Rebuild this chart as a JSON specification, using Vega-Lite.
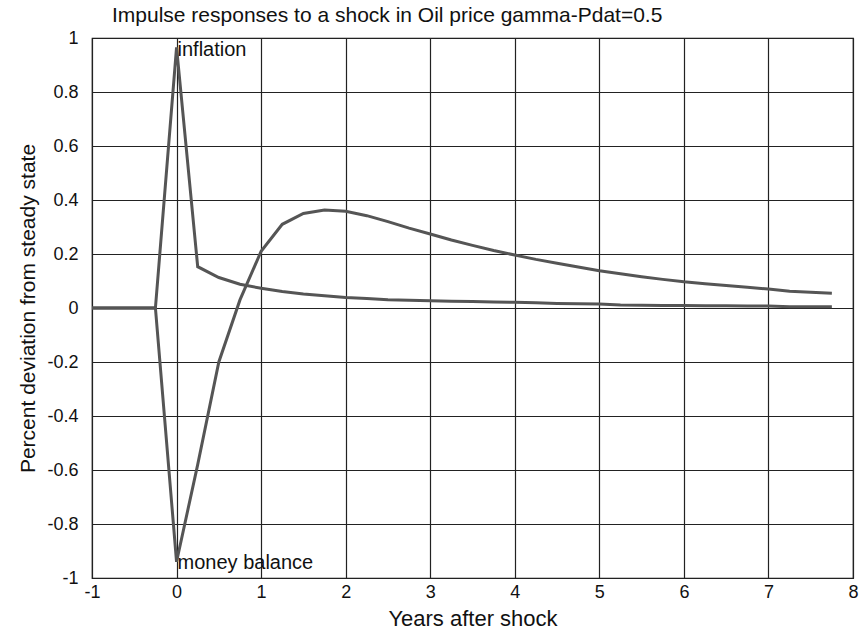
{
  "$schema": "https://vega.github.io/schema/vega-lite/v6.json",
  "width": 761,
  "height": 540,
  "autosize": "none",
  "padding": {"left": 92, "top": 38, "right": 10, "bottom": 58},
  "background": "white",
  "config": {
    "font": "Liberation Sans",
    "view": {"stroke": "#111", "strokeWidth": 1.2},
    "axis": {
      "grid": true, "gridColor": "#222", "gridOpacity": 1, "gridWidth": 1.2,
      "domain": false, "ticks": false,
      "labelFont": "Liberation Sans", "labelFontSize": 18, "labelColor": "#111",
      "titleFont": "Liberation Sans", "titleFontWeight": "normal", "titleColor": "#111",
      "labelFlush": false, "labelOverlap": false
    }
  },
  "title": {
    "text": "Impulse responses to a shock in Oil price gamma-Pdat=0.5",
    "anchor": "start", "frame": "group", "dx": 20, "offset": 3,
    "font": "Liberation Sans", "fontSize": 21, "fontWeight": "normal", "color": "#111"
  },
  "datasets": {
    "series": [
      {"t": -1, "v": 0, "s": "inflation"},
      {"t": -0.75, "v": 0, "s": "inflation"},
      {"t": -0.5, "v": 0, "s": "inflation"},
      {"t": -0.25, "v": 0, "s": "inflation"},
      {"t": 0, "v": 0.965, "s": "inflation"},
      {"t": 0.25, "v": 0.153, "s": "inflation"},
      {"t": 0.5, "v": 0.113, "s": "inflation"},
      {"t": 0.75, "v": 0.088, "s": "inflation"},
      {"t": 1, "v": 0.073, "s": "inflation"},
      {"t": 1.25, "v": 0.061, "s": "inflation"},
      {"t": 1.5, "v": 0.052, "s": "inflation"},
      {"t": 1.75, "v": 0.045, "s": "inflation"},
      {"t": 2, "v": 0.039, "s": "inflation"},
      {"t": 2.25, "v": 0.035, "s": "inflation"},
      {"t": 2.5, "v": 0.031, "s": "inflation"},
      {"t": 2.75, "v": 0.029, "s": "inflation"},
      {"t": 3, "v": 0.027, "s": "inflation"},
      {"t": 3.25, "v": 0.025, "s": "inflation"},
      {"t": 3.5, "v": 0.024, "s": "inflation"},
      {"t": 3.75, "v": 0.022, "s": "inflation"},
      {"t": 4, "v": 0.021, "s": "inflation"},
      {"t": 4.25, "v": 0.019, "s": "inflation"},
      {"t": 4.5, "v": 0.017, "s": "inflation"},
      {"t": 4.75, "v": 0.016, "s": "inflation"},
      {"t": 5, "v": 0.015, "s": "inflation"},
      {"t": 5.25, "v": 0.011, "s": "inflation"},
      {"t": 5.5, "v": 0.01, "s": "inflation"},
      {"t": 5.75, "v": 0.009, "s": "inflation"},
      {"t": 6, "v": 0.009, "s": "inflation"},
      {"t": 6.25, "v": 0.008, "s": "inflation"},
      {"t": 6.5, "v": 0.008, "s": "inflation"},
      {"t": 6.75, "v": 0.007, "s": "inflation"},
      {"t": 7, "v": 0.007, "s": "inflation"},
      {"t": 7.25, "v": 0.005, "s": "inflation"},
      {"t": 7.5, "v": 0.005, "s": "inflation"},
      {"t": 7.75, "v": 0.005, "s": "inflation"},
      {"t": -1, "v": 0, "s": "money balance"},
      {"t": -0.75, "v": 0, "s": "money balance"},
      {"t": -0.5, "v": 0, "s": "money balance"},
      {"t": -0.25, "v": 0, "s": "money balance"},
      {"t": 0, "v": -0.94, "s": "money balance"},
      {"t": 0.25, "v": -0.58, "s": "money balance"},
      {"t": 0.5, "v": -0.2, "s": "money balance"},
      {"t": 0.75, "v": 0.03, "s": "money balance"},
      {"t": 1, "v": 0.21, "s": "money balance"},
      {"t": 1.25, "v": 0.31, "s": "money balance"},
      {"t": 1.5, "v": 0.35, "s": "money balance"},
      {"t": 1.75, "v": 0.363, "s": "money balance"},
      {"t": 2, "v": 0.358, "s": "money balance"},
      {"t": 2.25, "v": 0.342, "s": "money balance"},
      {"t": 2.5, "v": 0.32, "s": "money balance"},
      {"t": 2.75, "v": 0.296, "s": "money balance"},
      {"t": 3, "v": 0.274, "s": "money balance"},
      {"t": 3.25, "v": 0.252, "s": "money balance"},
      {"t": 3.5, "v": 0.232, "s": "money balance"},
      {"t": 3.75, "v": 0.213, "s": "money balance"},
      {"t": 4, "v": 0.196, "s": "money balance"},
      {"t": 4.25, "v": 0.18, "s": "money balance"},
      {"t": 4.5, "v": 0.166, "s": "money balance"},
      {"t": 4.75, "v": 0.152, "s": "money balance"},
      {"t": 5, "v": 0.138, "s": "money balance"},
      {"t": 5.25, "v": 0.127, "s": "money balance"},
      {"t": 5.5, "v": 0.116, "s": "money balance"},
      {"t": 5.75, "v": 0.106, "s": "money balance"},
      {"t": 6, "v": 0.097, "s": "money balance"},
      {"t": 6.25, "v": 0.09, "s": "money balance"},
      {"t": 6.5, "v": 0.083, "s": "money balance"},
      {"t": 6.75, "v": 0.077, "s": "money balance"},
      {"t": 7, "v": 0.07, "s": "money balance"},
      {"t": 7.25, "v": 0.062, "s": "money balance"},
      {"t": 7.5, "v": 0.058, "s": "money balance"},
      {"t": 7.75, "v": 0.055, "s": "money balance"}
    ],
    "labels": [
      {"t": 0, "v": 0.955, "label": "inflation"},
      {"t": 0, "v": -0.945, "label": "money balance"}
    ]
  },
  "layer": [
    {
      "data": {"name": "series"},
      "mark": {"type": "line", "color": "#555", "strokeWidth": 3, "clip": true},
      "encoding": {
        "x": {
          "field": "t", "type": "quantitative",
          "scale": {"domain": [-1, 8], "nice": false, "zero": false},
          "axis": {
            "values": [-1, 0, 1, 2, 3, 4, 5, 6, 7, 8],
            "labelExpr": "'' + datum.value",
            "labelPadding": 5,
            "title": "Years after shock", "titleFontSize": 22, "titlePadding": 7
          }
        },
        "y": {
          "field": "v", "type": "quantitative",
          "scale": {"domain": [-1, 1], "nice": false, "zero": false},
          "axis": {
            "values": [-1, -0.8, -0.6, -0.4, -0.2, 0, 0.2, 0.4, 0.6, 0.8, 1],
            "labelExpr": "'' + datum.value",
            "labelPadding": 14,
            "title": "Percent deviation from steady state", "titleFontSize": 21, "titlePadding": 8
          }
        },
        "detail": {"field": "s", "type": "nominal"}
      }
    },
    {
      "data": {"name": "labels"},
      "mark": {"type": "text", "align": "left", "baseline": "middle", "dx": 1, "fontSize": 20, "font": "Liberation Sans", "color": "#111"},
      "encoding": {
        "x": {"field": "t", "type": "quantitative"},
        "y": {"field": "v", "type": "quantitative"},
        "text": {"field": "label", "type": "nominal"}
      }
    }
  ]
}
